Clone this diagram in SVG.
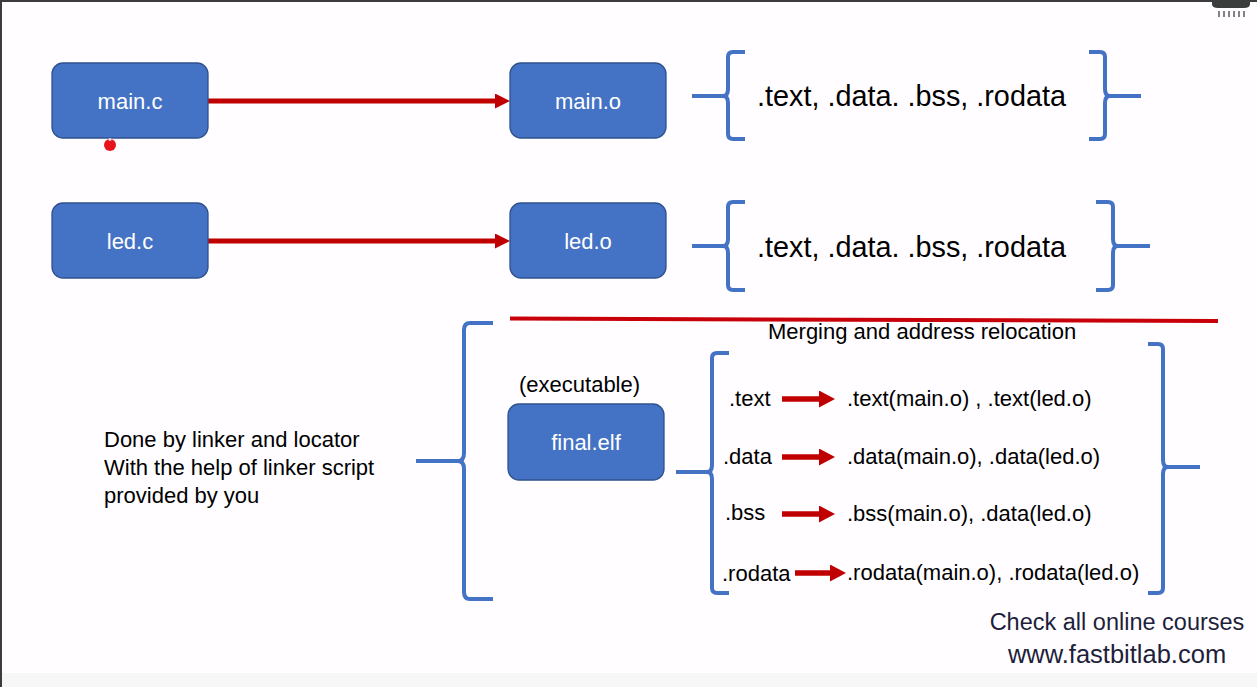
<svg xmlns="http://www.w3.org/2000/svg" width="1257" height="687" viewBox="0 0 1257 687">
<style>
.box{fill:#4472c4;stroke:#2f528f;stroke-width:1.3}
.bt{font-family:"Liberation Sans",Arial,sans-serif;font-size:22px;fill:#ffffff;text-anchor:middle}
.t{font-family:"Liberation Sans",Arial,sans-serif;font-size:22px;fill:#000000}
.big{font-size:28.8px}
.brace{fill:none;stroke:#4472c4;stroke-width:4;stroke-linejoin:round}
.conn{stroke:#c00000;stroke-width:5;fill:none}
.sm{stroke:#c00000;stroke-width:5.5;fill:none}
.promo{font-family:"Liberation Sans",Arial,sans-serif;font-size:23.5px;fill:#1e1f3a;text-anchor:middle}
</style>
<defs>
<marker id="ah" markerUnits="userSpaceOnUse" viewBox="0 0 15 15" markerWidth="15" markerHeight="15" refX="0" refY="7.5" orient="auto">
<path d="M0,0 L15,7.5 L0,15 z" fill="#c00000"/>
</marker>
<marker id="ahs" markerUnits="userSpaceOnUse" viewBox="0 0 16 17" markerWidth="16" markerHeight="17" refX="0" refY="8.5" orient="auto">
<path d="M0,0 L16,8.5 L0,17 z" fill="#c00000"/>
</marker>
</defs>
<rect x="0" y="0" width="1257" height="687" fill="#fffdff"/>
<rect x="0" y="673" width="1257" height="14" fill="#f6f7f6"/>
<rect x="0" y="0" width="1257" height="2" fill="#3c3c3c"/>
<rect x="0" y="0" width="2" height="687" fill="#3c3c3c"/>
<g id="ui-icon">
<path d="M1212,0 L1212,4 Q1212,8 1218,8 L1244,8 Q1250,8 1250,4 L1250,0 z" fill="#3a3d3b"/>
<g stroke="#333" stroke-width="1.2">
<line x1="1219" y1="11" x2="1219" y2="17"/><line x1="1224" y1="11" x2="1224" y2="17"/><line x1="1229" y1="11" x2="1229" y2="17"/><line x1="1234" y1="11" x2="1234" y2="17"/><line x1="1239" y1="11" x2="1239" y2="17"/><line x1="1244" y1="11" x2="1244" y2="17"/>
</g>
</g>
<g id="connectors">
<line class="conn" x1="208" y1="101" x2="495" y2="101" marker-end="url(#ah)"/>
<line class="conn" x1="208" y1="241" x2="495" y2="241" marker-end="url(#ah)"/>
<line x1="510" y1="318.5" x2="1218" y2="321" stroke="#c8000a" stroke-width="4"/>
<line class="sm" x1="782" y1="399" x2="819" y2="399" marker-end="url(#ahs)"/>
<line class="sm" x1="782" y1="457" x2="819" y2="457" marker-end="url(#ahs)"/>
<line class="sm" x1="782" y1="514" x2="819" y2="514" marker-end="url(#ahs)"/>
<line class="sm" x1="795" y1="573" x2="830" y2="573" marker-end="url(#ahs)"/>
</g>
<g id="main-c"><rect class="box" x="52" y="63" width="156" height="75" rx="11"/><text class="bt" x="130" y="109">main.c</text></g>
<g id="main-o"><rect class="box" x="510" y="63" width="156" height="75" rx="11"/><text class="bt" x="588" y="109">main.o</text></g>
<g id="led-c"><rect class="box" x="52" y="203" width="156" height="75" rx="11"/><text class="bt" x="130" y="249">led.c</text></g>
<g id="led-o"><rect class="box" x="510" y="203" width="156" height="75" rx="11"/><text class="bt" x="588" y="249">led.o</text></g>
<g id="final-elf"><rect class="box" x="508" y="404" width="156" height="76" rx="11"/><text class="bt" x="586" y="450">final.elf</text></g>
<g id="pointer"><circle cx="110" cy="145" r="6" fill="#e8141c"/><circle cx="110" cy="139.5" r="1.5" fill="#ffffff" opacity="0.8"/></g>
<g id="sections-main">
<path class="brace" d="M745,52 L733,52 Q728,52 728,57 L728,89 Q728,96 723,96 L692,96 M723,96 Q728,96 728,103 L728,134 Q728,139 733,139 L745,139"/>
<path class="brace" d="M1089,52 L1100,52 Q1105,52 1105,57 L1105,89 Q1105,96 1110,96 L1141,96 M1110,96 Q1105,96 1105,103 L1105,134 Q1105,139 1100,139 L1089,139"/>
<text class="t big" x="757" y="106">.text, .data. .bss, .rodata</text>
</g>
<g id="sections-led">
<path class="brace" d="M745,202 L733,202 Q728,202 728,207 L728,239 Q728,246 723,246 L692,246 M723,246 Q728,246 728,253 L728,285 Q728,290 733,290 L745,290"/>
<path class="brace" d="M1096,202 L1108,202 Q1113,202 1113,207 L1113,239 Q1113,246 1118,246 L1150,246 M1118,246 Q1113,246 1113,253 L1113,285 Q1113,290 1108,290 L1096,290"/>
<text class="t big" x="757" y="257">.text, .data. .bss, .rodata</text>
</g>
<g id="linker-note">
<path class="brace" d="M493,323 L470,323 Q464,323 464,330 L464,453 Q464,461 458,461 L416,461 M458,461 Q464,461 464,469 L464,592 Q464,599 470,599 L493,599"/>
<text class="t" x="104" y="447">Done by linker and locator</text>
<text class="t" x="104" y="475">With the help of linker script</text>
<text class="t" x="104" y="503">provided by you</text>
</g>
<text class="t" x="519" y="392">(executable)</text>
<text class="t" x="768" y="339">Merging and address relocation</text>
<g id="merge-list">
<path class="brace" d="M729,353 L717,353 Q712,353 712,358 L712,465 Q712,472 707,472 L676,472 M707,472 Q712,472 712,479 L712,588 Q712,593 717,593 L729,593"/>
<path class="brace" d="M1148,344 L1158,344 Q1163,344 1163,349 L1163,460 Q1163,467 1168,467 L1200,467 M1168,467 Q1163,467 1163,474 L1163,588 Q1163,593 1158,593 L1148,593"/>
<text class="t" x="729" y="406">.text</text>
<text class="t" x="723" y="464">.data</text>
<text class="t" x="725" y="520">.bss</text>
<text class="t" x="722" y="581">.rodata</text>
<text class="t" x="847" y="406">.text(main.o) , .text(led.o)</text>
<text class="t" x="847" y="464">.data(main.o), .data(led.o)</text>
<text class="t" x="847" y="521">.bss(main.o), .data(led.o)</text>
<text class="t" x="847" y="580">.rodata(main.o), .rodata(led.o)</text>
</g>
<text class="promo" x="1117" y="630">Check all online courses</text>
<text class="promo" x="1117" y="663" style="font-size:25.5px">www.fastbitlab.com</text>
</svg>
